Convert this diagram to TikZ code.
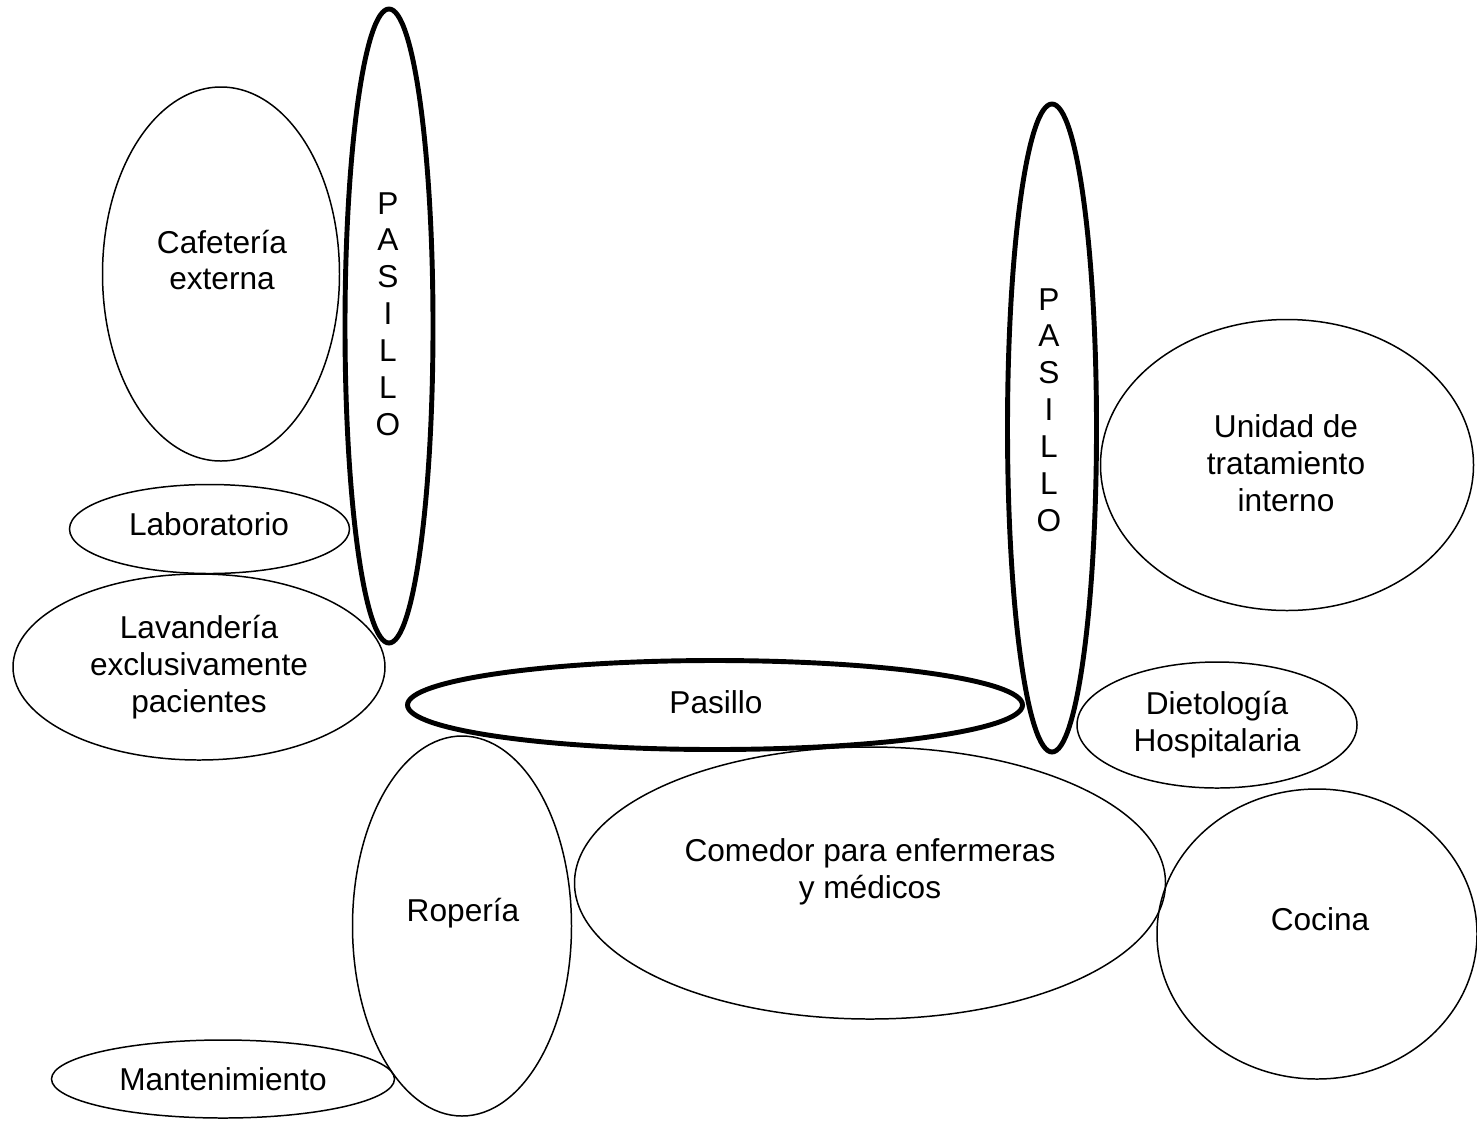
\documentclass[tikz,border=0pt]{standalone}
\usepackage{fontspec}
\setmainfont{Liberation Sans}
\usetikzlibrary{shapes.geometric}
\tikzset{
  sala/.style 2 args={draw=black,ellipse,line width=0.85pt,inner sep=0pt,minimum width=#1*0.02cm,minimum height=#2*0.02cm},
  pasillo/.style 2 args={draw=black,ellipse,line width=2.8pt,inner sep=0pt,minimum width=#1*0.02cm,minimum height=#2*0.02cm},
  rotulo/.style={align=center,inner sep=0pt,font=\fontsize{18}{21}\selectfont}
}
\begin{document}
\begin{tikzpicture}[x=0.02cm,y=-0.02cm]
  \useasboundingbox (0,0) rectangle (1477,1120);
  % salas
  \node[sala={237}{374}] (cafe) at (221,274) {};
  \node[sala={280}{89}] (lab) at (209.5,529) {};
  \node[sala={372}{186}] (lav) at (199,667) {};
  \node[sala={373}{291}] (unidad) at (1287,465) {};
  \node[sala={280}{126}] (dieto) at (1217,725) {};
  \node[sala={219}{380}] (ropa) at (462,926) {};
  \node[sala={591}{272}] (comedor) at (870,883) {};
  \node[sala={320}{290}] (cocina) at (1317,934) {};
  \node[sala={343}{78}] (mant) at (223,1079) {};
  % pasillos
  \node[pasillo={88}{634}] (pasA) at (389,326) {};
  \node[pasillo={615}{89}] (pasB) at (715,705) {};
  \node[pasillo={89}{648}] (pasC) at (1052,428) {};
  % rotulos
  \node[rotulo] (cafeT) at (222,260) {Cafetería\\externa};
  \node[rotulo] (labT) at (209,524) {Laboratorio};
  \node[rotulo] (lavT) at (199,667) {Lavandería\\exclusivamente\\pacientes};
  \node[rotulo] (unidadT) at (1286,463) {Unidad de\\tratamiento\\interno};
  \node[rotulo] (dietoT) at (1217,725) {Dietología\\Hospitalaria};
  \node[rotulo] (ropaT) at (463,913) {Ropería};
  \node[rotulo] (comedorT) at (870,872) {Comedor para enfermeras\\y médicos};
  \node[rotulo] (cocinaT) at (1320,919) {Cocina};
  \node[rotulo] (mantT) at (223,1079) {Mantenimiento};
  \node[rotulo] (pasAT) at (388,314) {P\\A\\S\\I\\L\\L\\O};
  \node[rotulo] (pasBT) at (716,702) {Pasillo};
  \node[rotulo] (pasCT) at (1049,410) {P\\A\\S\\I\\L\\L\\O};
\end{tikzpicture}
\end{document}
